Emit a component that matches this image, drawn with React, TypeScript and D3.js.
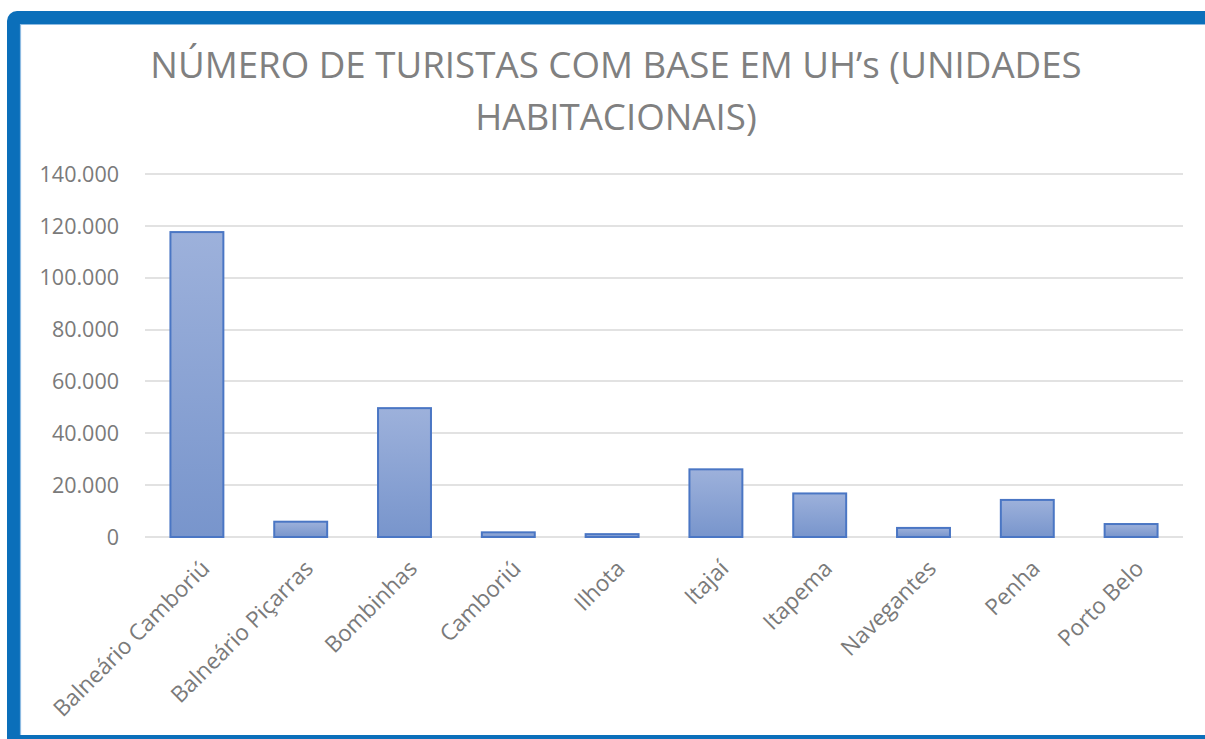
import React from "react";
import * as d3 from "d3";

const categories = [
  "Balneário Camboriú",
  "Balneário Piçarras",
  "Bombinhas",
  "Camboriú",
  "Ilhota",
  "Itajaí",
  "Itapema",
  "Navegantes",
  "Penha",
  "Porto Belo",
];
const values = [117600, 5900, 49700, 1800, 1100, 26100, 16800, 3500, 14300, 5000];
const yTicks = [0, 20000, 40000, 60000, 80000, 100000, 120000, 140000];
const titleLines = ["NÚMERO DE TURISTAS COM BASE EM UH’s (UNIDADES", "HABITACIONAIS)"];

const W = 1205;
const H = 739;
const plot = { left: 145, right: 1183, top: 174, bottom: 537 };
const FONT = "'Open Sans', sans-serif";

export default function App() {
  const x = d3
    .scaleBand<string>()
    .domain(categories)
    .range([plot.left, plot.right])
    .paddingInner(0.49)
    .paddingOuter(0.245);
  const y = d3.scaleLinear().domain([0, 140000]).range([plot.bottom, plot.top]);
  const fmt = (v: number) => (v === 0 ? "0" : d3.format(",")(v).replace(/,/g, "."));

  return (
    <div style={{ position: "fixed", left: 0, top: 0 }}>
      <svg width={W} height={H} style={{ display: "block" }}>
        <defs>
          <linearGradient id="barGrad" x1="0" y1="0" x2="0" y2="1">
            <stop offset="0" stopColor="#9db1db" />
            <stop offset="1" stopColor="#7895cc" />
          </linearGradient>
        </defs>
        <rect x={0} y={0} width={W} height={H} fill="#ffffff" />
        {/* frame */}
        <rect x={7} y={11} width={1400} height={900} rx={10} fill="#0b6fba" />
        <rect x={20} y={24} width={1400} height={711} fill="#ffffff" />
        <path d={`M20.5,735 V24.5 H${W}`} fill="none" stroke="#8dbbe2" strokeWidth={1.2} />

        {/* title */}
        {titleLines.map((t, i) => (
          <text
            key={i}
            x={616}
            y={78 + i * 52}
            textAnchor="middle"
            fontFamily={FONT}
            fontSize={36.7}
            fill="#808080"
          >
            {t}
          </text>
        ))}

        {/* gridlines */}
        {yTicks.map((t) => (
          <line
            key={t}
            x1={plot.left}
            x2={plot.right}
            y1={Math.round(y(t))}
            y2={Math.round(y(t))}
            stroke="#d9d9d9"
            strokeWidth={1.5}
          />
        ))}
        {/* y labels */}
        {yTicks.map((t) => (
          <text
            key={"l" + t}
            x={119}
            y={y(t)}
            dy="0.36em"
            textAnchor="end"
            fontFamily={FONT}
            fontSize={21.5}
            fill="#7a7a7a"
          >
            {fmt(t)}
          </text>
        ))}

        {/* bars */}
        {categories.map((c, i) => (
          <rect
            key={c}
            x={x(c)!}
            y={y(values[i])}
            width={x.bandwidth()}
            height={y(0) - y(values[i])}
            fill="url(#barGrad)"
            stroke="#4a76c4"
            strokeWidth={2}
          />
        ))}

        {/* x labels */}
        {categories.map((c) => {
          const cx = x(c)! + x.bandwidth() / 2;
          return (
            <text
              key={"x" + c}
              transform={`translate(${cx + 14},${570}) rotate(-45)`}
              textAnchor="end"
              fontFamily={FONT}
              fontSize={22.5}
              fill="#7a7a7a"
            >
              {c}
            </text>
          );
        })}
      </svg>
    </div>
  );
}
